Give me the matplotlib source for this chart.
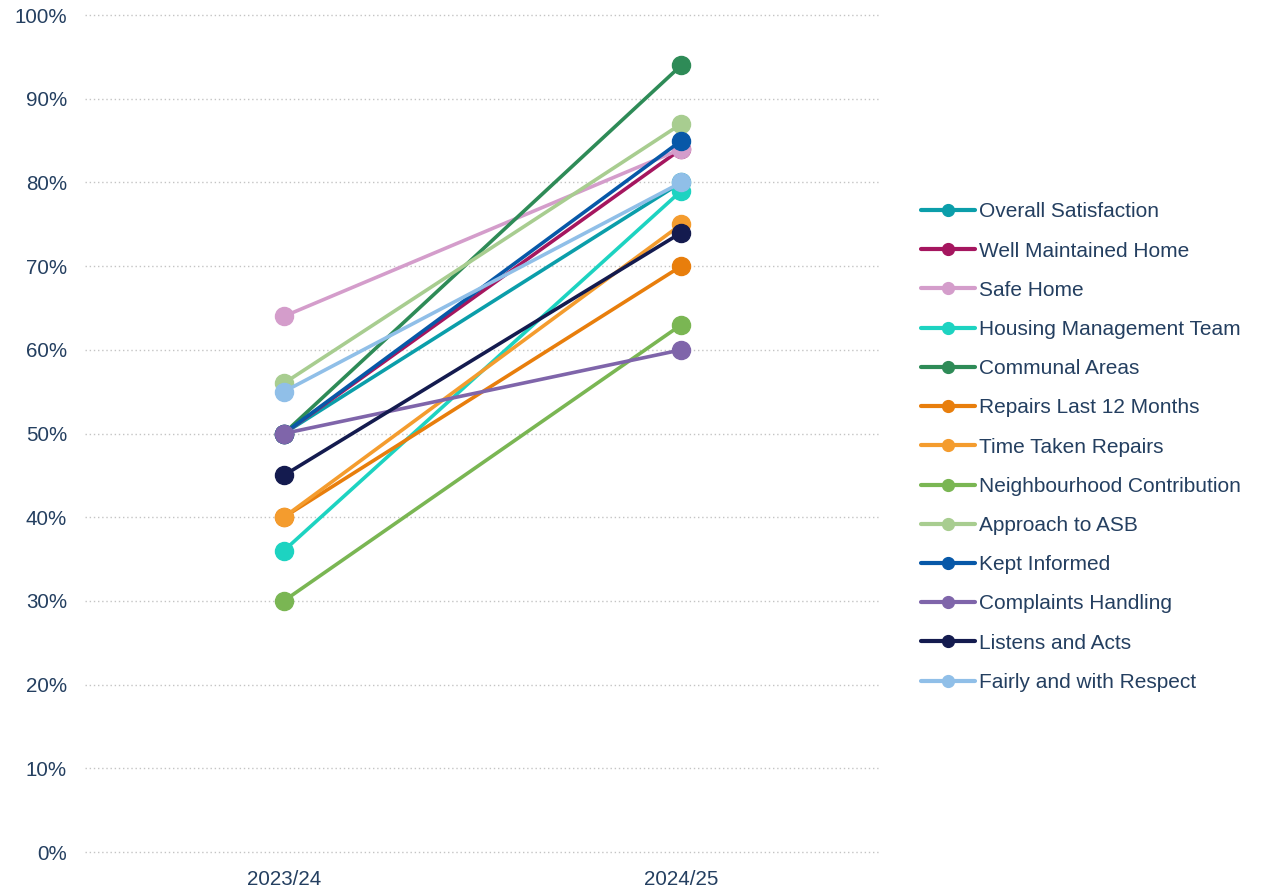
import matplotlib
matplotlib.use("Agg")
import matplotlib.pyplot as plt
from matplotlib.ticker import FuncFormatter

plt.rcParams['font.family'] = ['Liberation Sans', 'DejaVu Sans']

periods = ["2023/24", "2024/25"]
series_names = [
    "Overall Satisfaction", "Well Maintained Home", "Safe Home",
    "Housing Management Team", "Communal Areas", "Repairs Last 12 Months",
    "Time Taken Repairs", "Neighbourhood Contribution", "Approach to ASB",
    "Kept Informed", "Complaints Handling", "Listens and Acts",
    "Fairly and with Respect",
]
values_2023 = [50, 50, 64, 36, 50, 40, 40, 30, 56, 50, 50, 45, 55]
values_2024 = [80, 84, 84, 79, 94, 70, 75, 63, 87, 85, 60, 74, 80]
colors = [
    "#0B9EAA", "#A5165F", "#D49DCB", "#1DD3C1", "#2E8B57", "#E87E0C",
    "#F49C2E", "#7AB653", "#A8CD90", "#0758A8", "#7F65AA", "#141B4F",
    "#90BFE8",
]
yticks = list(range(0, 101, 10))

text_color = "#243F60"

fig = plt.figure(figsize=(12.62, 8.88), dpi=100)
ax = fig.add_axes([0.0674, 0.0405, 0.6300, 0.9426])

x = list(range(len(periods)))
for name, v1, v2, c in zip(series_names, values_2023, values_2024, colors):
    ax.plot(x, [v1, v2], color=c, lw=2.6, marker="o", markersize=13,
            label=name, solid_capstyle="round")

ax.set_xlim(-0.5, 1.5)
ax.set_ylim(0, 100)
ax.set_yticks(yticks)
ax.yaxis.set_major_formatter(FuncFormatter(lambda v, p: f"{int(v)}%"))
ax.set_xticks(x)
ax.set_xticklabels(periods)
ax.grid(axis="y", color="#C4C4C4", linestyle=(0, (1, 2)), linewidth=1.0)
ax.set_axisbelow(True)
for gl in ax.get_ygridlines():
    gl.set_clip_on(False)
for s in ax.spines.values():
    s.set_visible(False)
ax.tick_params(axis="both", length=0, labelsize=14.8, labelcolor=text_color)
ax.tick_params(axis="y", pad=13)
ax.tick_params(axis="x", pad=13)
for lbl in ax.get_yticklabels():
    lbl.set_clip_on(False)

leg = ax.legend(loc="center left", bbox_to_anchor=(0.7295, 0.4965),
                bbox_transform=fig.transFigure, frameon=False,
                fontsize=15, handlelength=2.6, handletextpad=0.2,
                labelspacing=0.97, borderaxespad=0, borderpad=0)
for h in leg.legend_handles:
    h.set_markersize(8.5)
    h.set_linewidth(3)
for t in leg.get_texts():
    t.set_color(text_color)

fig.savefig("out.png", dpi=100)
